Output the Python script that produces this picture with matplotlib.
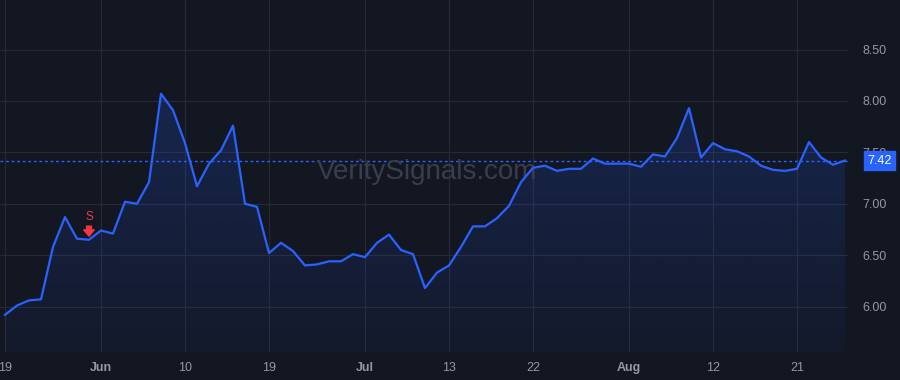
import matplotlib
matplotlib.use("Agg")
import matplotlib.pyplot as plt
import numpy as np
from matplotlib.patches import Polygon

# ---- data ----
values = [5.92, 6.01, 6.06, 6.07, 6.58, 6.87, 6.66, 6.65, 6.74, 6.71,
          7.02, 7.00, 7.21, 8.07, 7.91, 7.59, 7.17, 7.39, 7.52, 7.76,
          7.00, 6.97, 6.52, 6.62, 6.54, 6.40, 6.41, 6.44, 6.44, 6.51,
          6.48, 6.62, 6.70, 6.55, 6.51, 6.18, 6.33, 6.40, 6.58, 6.78,
          6.78, 6.86, 6.98, 7.21, 7.35, 7.37, 7.32, 7.34, 7.34, 7.44,
          7.39, 7.39, 7.39, 7.36, 7.48, 7.46, 7.64, 7.93, 7.45, 7.59,
          7.53, 7.51, 7.46, 7.37, 7.33, 7.32, 7.34, 7.60, 7.45, 7.38,
          7.42]
tick_idx = [0, 8, 15, 22, 30, 37, 44, 52, 59, 66]
tick_labels = ["19", "Jun", "10", "19", "Jul", "13", "22", "Aug", "12", "21"]
month_labels = {"Jun", "Jul", "Aug"}
y_ticks = [6.00, 6.50, 7.00, 7.50, 8.00, 8.50]
signal_idx = 7
signal_label = "S"
last_value = 7.42
watermark = "VeritySignals.com"

# ---- style ----
BG = "#131722"
GRID = "#262a35"
LINE = "#2962ff"
TXT = "#9598a1"
RED = "#f23645"

fig = plt.figure(figsize=(9, 3.8), dpi=100, facecolor=BG)
ax = fig.add_axes([0, 28/380, 848/900, 352/380])
ax.set_facecolor(BG)

x = np.arange(len(values))
y = np.array(values)

ymin, ymax = 5.558, 8.982
ax.set_ylim(ymin, ymax)
ax.set_xlim(-0.417, 70.25)

# gradient fill under line
grad = np.linspace(0, 1, 256).reshape(-1, 1)
rgba = np.zeros((256, 1, 4))
c = matplotlib.colors.to_rgb(LINE)
rgba[..., 0], rgba[..., 1], rgba[..., 2] = c
rgba[..., 3] = 0.04 + 0.22 * grad
im = ax.imshow(rgba, aspect="auto", origin="lower",
               extent=[x[0], x[-1], ymin, ymax], zorder=1)
poly = Polygon(np.vstack([[x[0], ymin], np.column_stack([x, y]), [x[-1], ymin]]),
               closed=True, transform=ax.transData, facecolor="none", edgecolor="none")
ax.add_patch(poly)
im.set_clip_path(poly)

ax.plot(x, y, color=LINE, lw=1.6, zorder=3, solid_joinstyle="round")

# last value dotted line
ax.axhline(last_value, color=LINE, lw=1.0, ls=(0, (2, 2)), zorder=2, clip_on=False)

# grid
ax.set_xticks(tick_idx)
ax.set_xticklabels(tick_labels)
for lab in ax.get_xticklabels():
    if lab.get_text() in month_labels:
        lab.set_fontweight("bold")
ax.set_yticks(y_ticks)
ax.set_yticklabels([f"{v:.2f}" for v in y_ticks])
ax.grid(True, color=GRID, lw=0.8, zorder=0)
ax.set_axisbelow(True)
ax.yaxis.tick_right()
ax.tick_params(axis="y", length=0, pad=10.5, labelsize=9, labelcolor=TXT)
ax.tick_params(axis="x", length=0, pad=7, labelsize=9, labelcolor=TXT)
for lab in ax.get_yticklabels() + ax.get_xticklabels():
    lab.set_fontfamily("Liberation Sans")
for s in ax.spines.values():
    s.set_visible(False)

# last value label box
ax.annotate(f"{last_value:.2f}", xy=(1.0, last_value), xycoords=("axes fraction", "data"),
            xytext=(22.5, 0), textcoords="offset points", ha="center", va="center",
            fontsize=9, color="white", family="Liberation Sans", zorder=6,
            bbox=dict(boxstyle="square,pad=0.25", fc=LINE, ec=LINE), annotation_clip=False)

# signal marker
sv = values[signal_idx]
ax.annotate(signal_label, xy=(signal_idx, sv), xytext=(0, 16.5), textcoords="offset points",
            ha="center", va="center", fontsize=8.5, color=RED, family="Liberation Sans", zorder=5)
ax.annotate("", xy=(signal_idx, sv), xytext=(0, 9.8), textcoords="offset points",
            arrowprops=dict(arrowstyle="simple,head_length=0.45,head_width=0.75,tail_width=0.35",
                            color=RED, shrinkA=0, shrinkB=2.6, mutation_scale=10), zorder=5)

# watermark
ax.text(427, 380 - 172, watermark, transform=None, fontsize=20, family="Liberation Sans",
        color="#3a3e4a", ha="center", va="center", zorder=2)

fig.savefig("out.png", dpi=100, facecolor=BG)
